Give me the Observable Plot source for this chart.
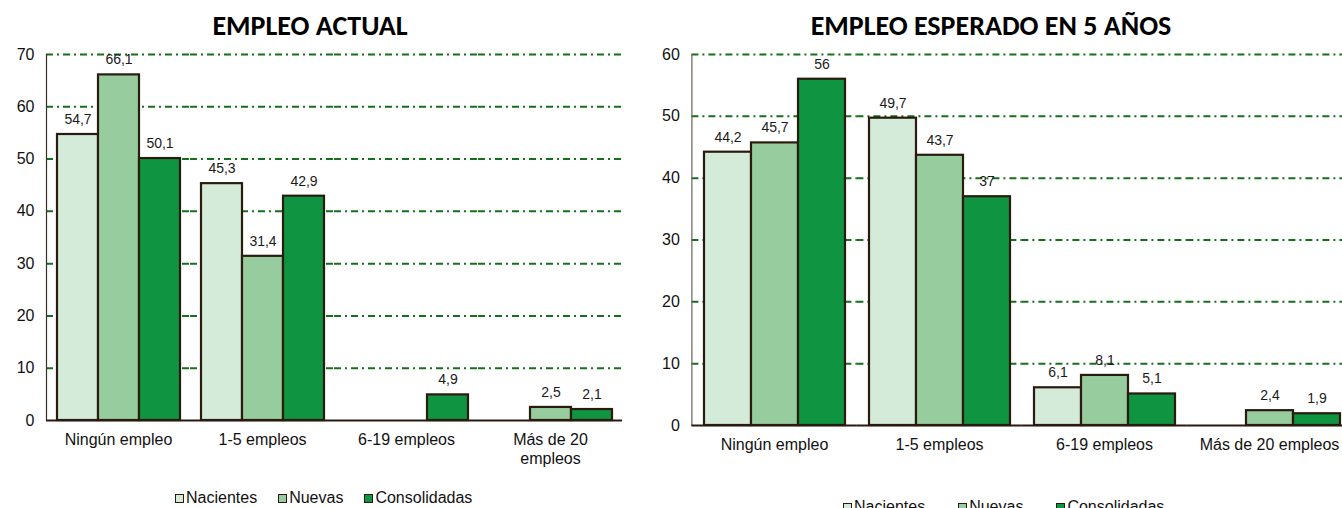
<!DOCTYPE html>
<html>
<head>
<meta charset="utf-8">
<script src="https://cdn.jsdelivr.net/npm/d3@7"></script>
<script src="https://cdn.jsdelivr.net/npm/@observablehq/plot@0.6"></script>
<style>
  html, body { margin: 0; padding: 0; background: #fff; overflow: hidden; width: 1342px; height: 508px; }
  .title { position: absolute; font-family: Carlito, Lato, "Open Sans", sans-serif; font-weight: 700; font-size: 28px; line-height: 32px; color: #000; text-align: center; white-space: nowrap; }
  .chart { position: absolute; }
  .legend { position: absolute; display: flex; font-family: "Liberation Sans", Arial, sans-serif; font-size: 16px; line-height: 18px; color: #111; white-space: nowrap; }
  .legend .item { display: flex; align-items: center; }
  .legend .sw { display: inline-block; width: 7px; height: 7px; border: 1.5px solid #2b1b0f; margin-right: 2px; }
</style>
</head>
<body>
<div class="title" style="left:110px; width:400px; top:10px;">EMPLEO ACTUAL</div>
<div class="title" style="left:791px; width:400px; top:10px;">EMPLEO ESPERADO EN 5 AÑOS</div>
<div id="left" class="chart" style="left:0px; top:44px;"></div>
<div id="right" class="chart" style="left:640px; top:44px;"></div>
<div id="legendLeft" class="legend" style="left:175px; top:489px;"></div>
<div id="legendRight" class="legend" style="left:843px; top:498px;"></div>
<script>
// ---- data ----
const categories = ["Ningún empleo", "1-5 empleos", "6-19 empleos", "Más de 20 empleos"];
const series = ["Nacientes", "Nuevas", "Consolidadas"];
const colors = ["#d4ebda", "#97cc9e", "#0f9441"];

const actualNacientes    = [54.7, 45.3, null, null];
const actualNuevas       = [66.1, 31.4, null, 2.5];
const actualConsolidadas = [50.1, 42.9, 4.9, 2.1];

const esperadoNacientes    = [44.2, 49.7, 6.1, null];
const esperadoNuevas       = [45.7, 43.7, 8.1, 2.4];
const esperadoConsolidadas = [56, 37, 5.1, 1.9];

const ticksActual   = [0, 10, 20, 30, 40, 50, 60, 70];
const ticksEsperado = [0, 10, 20, 30, 40, 50, 60];

// ---- build tables ----
function rows(seriesValues) {
  const out = [];
  categories.forEach((cat, ci) => {
    series.forEach((s, si) => {
      const v = seriesValues[si][ci];
      if (v != null) out.push({cat, series: s, value: v});
    });
  });
  return out;
}
const dataActual = rows([actualNacientes, actualNuevas, actualConsolidadas]);
const dataEsperado = rows([esperadoNacientes, esperadoNuevas, esperadoConsolidadas]);

const fmt = d => String(d).replace(".", ",");
const gridColor = "#14701a";
const barStroke = "#2b1b0f";

function chart({data, ticks, width, height, marginLeft, marginRight, marginBottom, halfGap, axisColor, wrap}) {
  return Plot.plot({
    width, height,
    marginLeft, marginRight, marginTop: 10, marginBottom,
    style: {fontFamily: "'Liberation Sans', Arial, sans-serif", background: "none", overflow: "visible", maxWidth: "none", color: "#111"},
    fx: {domain: categories, paddingInner: 0.14, paddingOuter: 0.07},
    x: {domain: series, axis: null, paddingInner: 0, paddingOuter: 0},
    y: {domain: [ticks[0], ticks[ticks.length - 1]]},
    color: {domain: series, range: colors},
    marks: [
      Plot.ruleY(ticks.filter(t => t > 0), {stroke: gridColor, strokeWidth: 2, strokeDasharray: "7,4,2,4", insetLeft: -halfGap, insetRight: -halfGap}),
      Plot.frame({anchor: "left", facetAnchor: "left", insetLeft: -halfGap, stroke: axisColor, strokeWidth: 1.2}),
      Plot.barY(data, {fx: "cat", x: "series", y: "value", fill: "series", stroke: barStroke, strokeWidth: 2.2}),
      Plot.ruleY([0], {stroke: barStroke, strokeWidth: 2, insetLeft: -halfGap, insetRight: -halfGap}),
      Plot.text(data, {fx: "cat", x: "series", y: "value", text: d => fmt(d.value), dy: -15, fontSize: 14, fill: "#1a1a1a"}),
      Plot.axisY({ticks, tickSize: 0, tickPadding: halfGap + 12, fontSize: 16, label: null, tickFormat: d => d, fill: "#111"}),
      Plot.axisFx({anchor: "bottom", tickSize: 0, tickPadding: 11, fontSize: 16, label: null, lineWidth: wrap ? 7.5 : Infinity, lineHeight: 1.2, fill: "#111"})
    ]
  });
}

document.getElementById("left").append(chart({
  data: dataActual, ticks: ticksActual, width: 660, height: 426,
  marginLeft: 45, marginRight: 37, marginBottom: 50, halfGap: 10, axisColor: "#3b2f28", wrap: true
}));
document.getElementById("right").append(chart({
  data: dataEsperado, ticks: ticksEsperado, width: 712, height: 426,
  marginLeft: 50, marginRight: 0, marginBottom: 45, halfGap: 11.6, axisColor: "#6e625a", wrap: false
}));

function legend(el, gap) {
  el.style.gap = gap + "px";
  series.forEach((s, i) => {
    const item = document.createElement("span");
    item.className = "item";
    const sw = document.createElement("span");
    sw.className = "sw";
    sw.style.background = colors[i];
    item.append(sw, document.createTextNode(s));
    el.append(item);
  });
}
legend(document.getElementById("legendLeft"), 21);
legend(document.getElementById("legendRight"), 33);
</script>
</body>
</html>
